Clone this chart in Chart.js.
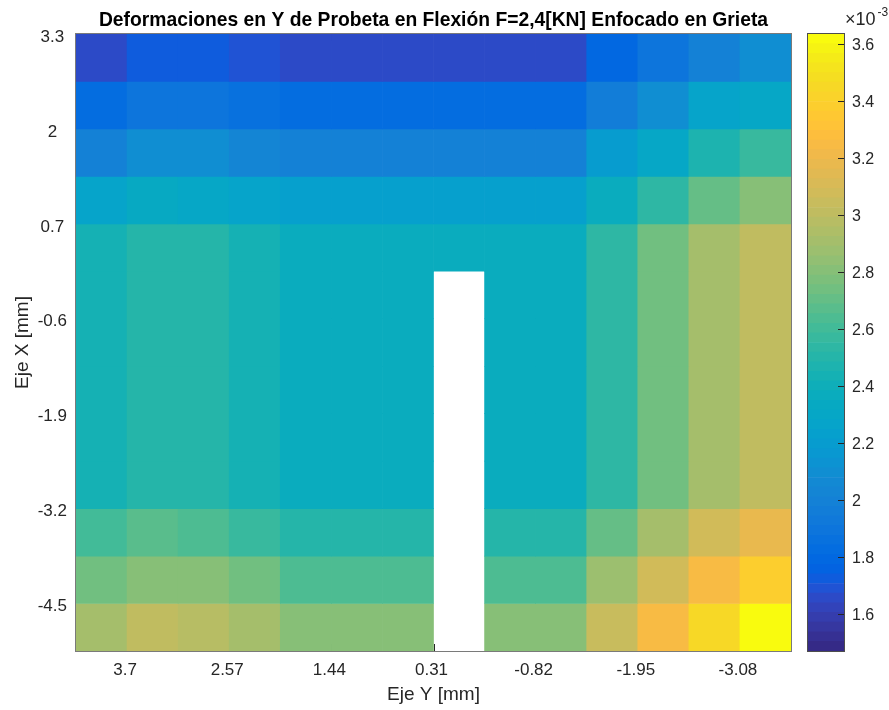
<!DOCTYPE html>
<html lang="es">
<head>
<meta charset="utf-8">
<title>Deformaciones en Y</title>
<script src="https://cdn.jsdelivr.net/npm/chart.js@4.4.1/dist/chart.umd.min.js"></script>
<style>
  html, body { margin: 0; padding: 0; background: #fff; }
  #lienzo { position: relative; width: 889px; height: 710px; }
  #mapa { position: absolute; left: 0; top: 0; }
  #barra { position: absolute; left: 800px; top: 0; }
</style>
</head>
<body>
<div id="lienzo">
  <canvas id="mapa" width="800" height="710"></canvas>
  <canvas id="barra" width="89" height="710"></canvas>
</div>
<script>
// bordes de las celdas (como pcolor): horizontal = Eje Y, vertical = Eje X
const bordesY = [4.265, 3.7, 3.135, 2.57, 2.005, 1.44, 0.875, 0.31, -0.255, -0.82, -1.385, -1.95, -2.515, -3.08, -3.645];
const bordesX = [3.3, 2.65, 2.0, 1.35, 0.7, 0.05, -0.6, -1.25, -1.9, -2.55, -3.2, -3.85, -4.5, -5.15];

const ticksEjeY = [3.7, 2.57, 1.44, 0.31, -0.82, -1.95, -3.08];
const ticksEjeX = [3.3, 2, 0.7, -0.6, -1.9, -3.2, -4.5];
const ticksBarra = [1.6, 1.8, 2, 2.2, 2.4, 2.6, 2.8, 3, 3.2, 3.4, 3.6];

// limites de color, en x10^-3
const limitesColor = [1.469, 3.635];

// deformacion en Y (x10^-3), una fila por franja de X (de arriba a abajo); null = grieta
const deformacion = [
    [1.65, 1.72, 1.72, 1.69, 1.65, 1.65, 1.65, 1.65, 1.65, 1.65, 1.79, 1.89, 1.99, 2.08],
    [1.82, 1.89, 1.89, 1.86, 1.82, 1.82, 1.82, 1.82, 1.82, 1.82, 1.96, 2.09, 2.26, 2.30],
    [1.99, 2.09, 2.09, 2.03, 1.99, 1.99, 1.99, 1.99, 1.99, 1.99, 2.20, 2.30, 2.47, 2.57],
    [2.26, 2.33, 2.30, 2.26, 2.23, 2.23, 2.23, 2.23, 2.23, 2.23, 2.37, 2.54, 2.70, 2.81],
    [2.43, 2.50, 2.50, 2.43, 2.37, 2.37, 2.37, 2.37, 2.37, 2.37, 2.54, 2.74, 2.91, 3.00],
    [2.43, 2.50, 2.50, 2.43, 2.37, 2.37, 2.37, null, 2.37, 2.37, 2.54, 2.74, 2.91, 3.00],
    [2.43, 2.50, 2.50, 2.43, 2.37, 2.37, 2.37, null, 2.37, 2.37, 2.54, 2.74, 2.91, 3.00],
    [2.43, 2.50, 2.50, 2.43, 2.37, 2.37, 2.37, null, 2.37, 2.37, 2.54, 2.74, 2.91, 3.00],
    [2.43, 2.50, 2.50, 2.43, 2.37, 2.37, 2.37, null, 2.37, 2.37, 2.54, 2.74, 2.91, 3.00],
    [2.43, 2.50, 2.50, 2.43, 2.37, 2.37, 2.37, null, 2.37, 2.37, 2.54, 2.74, 2.91, 3.00],
    [2.60, 2.67, 2.64, 2.57, 2.50, 2.50, 2.50, null, 2.50, 2.50, 2.70, 2.91, 3.08, 3.18],
    [2.74, 2.81, 2.81, 2.74, 2.64, 2.64, 2.64, null, 2.64, 2.64, 2.87, 3.08, 3.25, 3.38],
    [2.91, 3.01, 2.98, 2.91, 2.81, 2.81, 2.81, null, 2.81, 2.81, 3.04, 3.25, 3.45, 3.61]
];

// mapa de color parula (64)
const parula = [
    [0.2081, 0.1663, 0.5292], [0.2116, 0.1898, 0.5777], [0.2123, 0.2138, 0.6270], [0.2081, 0.2386, 0.6771],
    [0.1959, 0.2645, 0.7279], [0.1707, 0.2919, 0.7792], [0.1253, 0.3242, 0.8303], [0.0591, 0.3598, 0.8683],
    [0.0117, 0.3875, 0.8820], [0.0060, 0.4086, 0.8828], [0.0165, 0.4266, 0.8786], [0.0329, 0.4430, 0.8720],
    [0.0498, 0.4586, 0.8641], [0.0629, 0.4737, 0.8554], [0.0723, 0.4887, 0.8467], [0.0779, 0.5040, 0.8384],
    [0.0793, 0.5200, 0.8312], [0.0749, 0.5375, 0.8263], [0.0641, 0.5570, 0.8240], [0.0488, 0.5772, 0.8228],
    [0.0343, 0.5966, 0.8199], [0.0265, 0.6137, 0.8135], [0.0239, 0.6287, 0.8038], [0.0231, 0.6418, 0.7913],
    [0.0228, 0.6535, 0.7768], [0.0267, 0.6642, 0.7607], [0.0384, 0.6743, 0.7436], [0.0590, 0.6838, 0.7254],
    [0.0843, 0.6928, 0.7062], [0.1133, 0.7015, 0.6859], [0.1453, 0.7098, 0.6646], [0.1801, 0.7177, 0.6424],
    [0.2178, 0.7250, 0.6193], [0.2586, 0.7317, 0.5954], [0.3022, 0.7376, 0.5712], [0.3482, 0.7424, 0.5473],
    [0.3953, 0.7459, 0.5244], [0.4420, 0.7481, 0.5033], [0.4871, 0.7491, 0.4840], [0.5300, 0.7491, 0.4661],
    [0.5709, 0.7485, 0.4494], [0.6099, 0.7473, 0.4337], [0.6473, 0.7456, 0.4188], [0.6834, 0.7435, 0.4044],
    [0.7184, 0.7411, 0.3905], [0.7525, 0.7384, 0.3768], [0.7858, 0.7356, 0.3633], [0.8185, 0.7327, 0.3498],
    [0.8507, 0.7299, 0.3360], [0.8824, 0.7274, 0.3217], [0.9139, 0.7258, 0.3063], [0.9450, 0.7261, 0.2886],
    [0.9739, 0.7314, 0.2666], [0.9938, 0.7455, 0.2403], [0.9990, 0.7653, 0.2164], [0.9955, 0.7861, 0.1967],
    [0.9880, 0.8066, 0.1794], [0.9789, 0.8271, 0.1633], [0.9697, 0.8481, 0.1475], [0.9626, 0.8705, 0.1309],
    [0.9589, 0.8949, 0.1132], [0.9598, 0.9218, 0.0948], [0.9661, 0.9514, 0.0755], [0.9763, 0.9831, 0.0538]
];

const fuente = '"Liberation Sans", Arial, Helvetica, sans-serif';
const gris = '#262626';
Chart.defaults.font.family = fuente;

function rgb(c) {
    return 'rgb(' + c.map(function(v) { return Math.round(v * 255); }).join(',') + ')';
}

function colorDe(v) {
    const [cmin, cmax] = limitesColor;
    let k = Math.floor((v - cmin) / (cmax - cmin) * parula.length);
    k = Math.max(0, Math.min(parula.length - 1, k));
    return rgb(parula[k]);
}

// una serie de barras flotantes por fila; cada barra es una celda
const filas = deformacion.map(function(fila, i) {
    const puntos = [];
    const colores = [];
    fila.forEach(function(v, j) {
        if (v === null) return;
        puntos.push({ x: (bordesY[j] + bordesY[j + 1]) / 2, y: [bordesX[i + 1], bordesX[i]] });
        colores.push(colorDe(v));
    });
    return {
        data: puntos,
        backgroundColor: colores,
        borderWidth: 0,
        grouped: false,
        barPercentage: 1,
        categoryPercentage: 1
    };
});

// ticks hacia adentro (quedan debajo de las celdas) y marco del eje
const ejesMatlab = {
    id: 'ejesMatlab',
    beforeDatasetsDraw(chart) {
        const { ctx, chartArea: a, scales } = chart;
        ctx.save();
        ctx.strokeStyle = gris;
        ctx.lineWidth = 1;
        ctx.beginPath();
        ticksEjeY.forEach(function(v) {
            const px = Math.round(scales.x.getPixelForValue(v)) + 0.5;
            ctx.moveTo(px, a.bottom); ctx.lineTo(px, a.bottom - 7);
            ctx.moveTo(px, a.top); ctx.lineTo(px, a.top + 7);
        });
        ticksEjeX.forEach(function(v) {
            const py = Math.round(scales.y.getPixelForValue(v)) + 0.5;
            ctx.moveTo(a.left, py); ctx.lineTo(a.left + 7, py);
            ctx.moveTo(a.right, py); ctx.lineTo(a.right - 7, py);
        });
        ctx.stroke();
        ctx.restore();
    },
    afterDatasetsDraw(chart) {
        const { ctx, chartArea: a } = chart;
        ctx.save();
        ctx.strokeStyle = '#7a7a7a';
        ctx.lineWidth = 1;
        ctx.strokeRect(Math.round(a.left) - 0.5, Math.round(a.top) - 0.5,
            Math.round(a.right - a.left) + 1, Math.round(a.bottom - a.top) + 1);
        ctx.restore();
    }
};

new Chart(document.getElementById('mapa'), {
    type: 'bar',
    data: { datasets: filas },
    options: {
        responsive: false,
        animation: false,
        layout: { padding: { left: 0, right: 9, top: 0, bottom: 0 } },
        plugins: {
            legend: { display: false },
            tooltip: { enabled: false },
            title: {
                display: true,
                fullSize: false,
                text: 'Deformaciones en Y de Probeta en Flexión F=2,4[KN] Enfocado en Grieta',
                color: '#000',
                font: { size: 19.3, weight: 'bold' },
                padding: { top: 9, bottom: 1.8 }
            }
        },
        scales: {
            x: {
                type: 'linear',
                reverse: true,
                min: bordesY[bordesY.length - 1],
                max: bordesY[0],
                offset: false,
                grid: { display: false, drawTicks: false },
                border: { display: false },
                afterBuildTicks: function(s) { s.ticks = ticksEjeY.map(function(v) { return { value: v }; }); },
                afterFit: function(s) { s.height = 59; },
                ticks: {
                    autoSkip: false,
                    maxRotation: 0,
                    padding: 9,
                    labelOffset: -2,
                    color: gris,
                    font: { size: 17 },
                    callback: function(v) { return String(v); }
                },
                title: {
                    display: true,
                    text: 'Eje Y [mm]',
                    color: gris,
                    font: { size: 19 },
                    padding: { top: 0, bottom: 4 }
                }
            },
            y: {
                type: 'linear',
                min: bordesX[bordesX.length - 1],
                max: bordesX[0],
                grid: { display: false, drawTicks: false },
                border: { display: false },
                afterBuildTicks: function(s) { s.ticks = ticksEjeX.map(function(v) { return { value: v }; }); },
                afterFit: function(s) { s.width = 76; },
                ticks: {
                    autoSkip: false,
                    padding: 9,
                    crossAlign: 'center',
                    labelOffset: 3,
                    color: gris,
                    font: { size: 17 },
                    callback: function(v) { return String(v); }
                },
                title: {
                    display: true,
                    text: 'Eje X [mm]',
                    color: gris,
                    font: { size: 19 },
                    padding: { top: 11, bottom: 0 }
                }
            }
        }
    },
    plugins: [ejesMatlab]
});

// barra de color: 64 franjas flotantes
const paso = (limitesColor[1] - limitesColor[0]) / parula.length;
const franjas = parula.map(function(c, k) {
    return {
        data: [[limitesColor[0] + k * paso, limitesColor[0] + (k + 1) * paso]],
        backgroundColor: rgb(c),
        borderWidth: 0,
        grouped: false,
        barPercentage: 1,
        categoryPercentage: 1
    };
});

const marcoBarra = {
    id: 'marcoBarra',
    afterDatasetsDraw(chart) {
        const { ctx, chartArea: a, scales } = chart;
        ctx.save();
        ctx.strokeStyle = '#4d4d4d';
        ctx.lineWidth = 1;
        ctx.strokeRect(Math.round(a.left) - 0.5, Math.round(a.top) - 0.5,
            Math.round(a.right - a.left) + 1, Math.round(a.bottom - a.top) + 1);
        ctx.strokeStyle = gris;
        ctx.beginPath();
        ticksBarra.forEach(function(v) {
            const py = Math.round(scales.y.getPixelForValue(v)) + 0.5;
            ctx.moveTo(a.right, py); ctx.lineTo(a.right - 6, py);
        });
        ctx.stroke();
        // multiplicador del eje
        ctx.fillStyle = gris;
        ctx.textBaseline = 'middle';
        ctx.textAlign = 'left';
        ctx.font = '18px ' + fuente;
        ctx.fillText('\u00d710', 45, 20);
        ctx.font = '12px ' + fuente;
        ctx.fillText('-3', 77.5, 13);
        ctx.restore();
    }
};

new Chart(document.getElementById('barra'), {
    type: 'bar',
    data: { labels: [''], datasets: franjas },
    options: {
        responsive: false,
        animation: false,
        layout: { padding: { left: 8, right: 0, top: 34, bottom: 59 } },
        plugins: {
            legend: { display: false },
            tooltip: { enabled: false }
        },
        scales: {
            x: { display: false, offset: true },
            y: {
                position: 'right',
                min: limitesColor[0],
                max: limitesColor[1],
                grid: { display: false, drawTicks: false },
                border: { display: false },
                afterBuildTicks: function(s) { s.ticks = ticksBarra.map(function(v) { return { value: v }; }); },
                afterFit: function(s) { s.width = 45; },
                ticks: {
                    autoSkip: false,
                    padding: 8,
                    labelOffset: 2,
                    color: gris,
                    font: { size: 16 },
                    callback: function(v) { return String(v); }
                }
            }
        }
    },
    plugins: [marcoBarra]
});
</script>
</body>
</html>
